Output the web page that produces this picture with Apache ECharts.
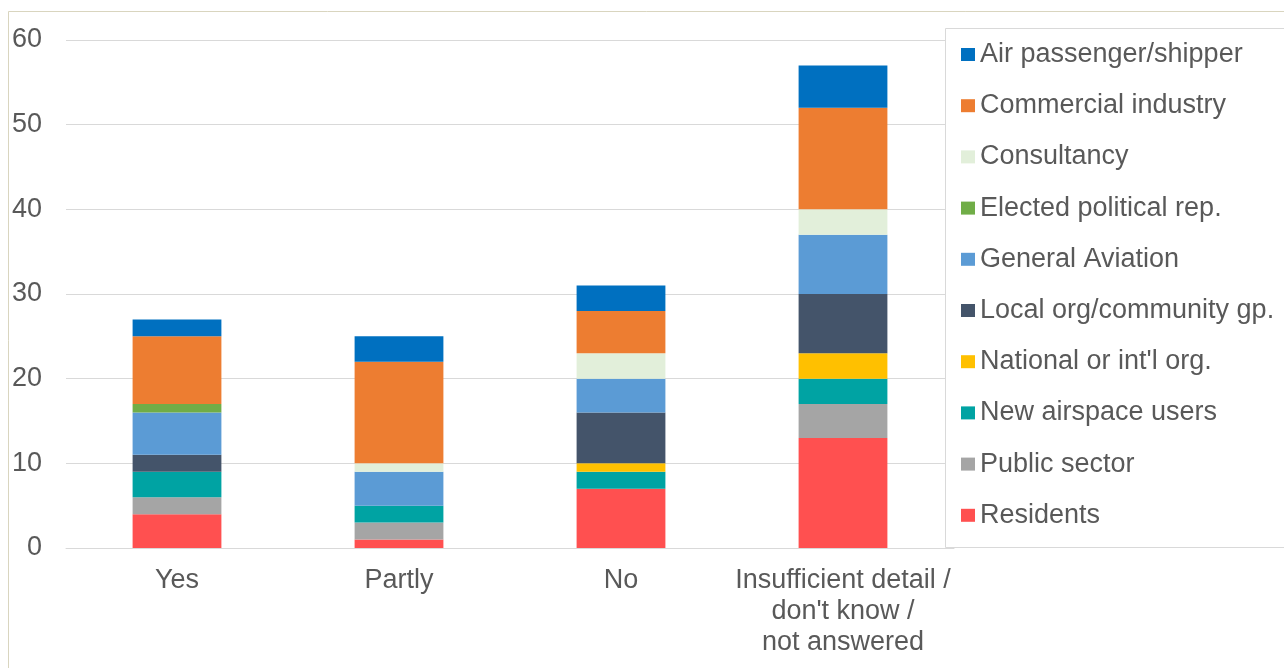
<!DOCTYPE html>
<html>
<head>
<meta charset="utf-8">
<script src="https://cdn.jsdelivr.net/npm/echarts@6/dist/echarts.min.js"></script>
<style>
  html, body { margin: 0; padding: 0; background: #ffffff; }
  #chart { width: 1284px; height: 668px; }
</style>
</head>
<body>
<div id="chart"></div>
<script>
// Response categories along the x axis
const categories = ['Yes', 'Partly', 'No', "Insufficient detail /\ndon't know /\nnot answered"];

// Respondent groups, bottom of the stack first
const residents        = [4, 1, 7, 13];
const publicSector     = [2, 2, 0, 4];
const newAirspaceUsers = [3, 2, 2, 3];
const nationalOrg      = [0, 0, 1, 3];
const localOrg         = [2, 0, 6, 7];
const generalAviation  = [5, 4, 4, 7];
const electedRep       = [1, 0, 0, 0];
const consultancy      = [0, 1, 3, 3];
const commercial       = [8, 12, 5, 12];
const airPassenger     = [2, 3, 3, 5];

const yTicks = { min: 0, max: 60, interval: 10 };

const groups = [
  { name: 'Residents', data: residents, color: '#ff5050' },
  { name: 'Public sector', data: publicSector, color: '#a5a5a5' },
  { name: 'New airspace users', data: newAirspaceUsers, color: '#00a3a3' },
  { name: "National or int'l org.", data: nationalOrg, color: '#ffc000' },
  { name: 'Local org/community gp.', data: localOrg, color: '#44546a' },
  { name: 'General Aviation', data: generalAviation, color: '#5b9bd5' },
  { name: 'Elected political rep.', data: electedRep, color: '#70ad47' },
  { name: 'Consultancy', data: consultancy, color: '#e2efda' },
  { name: 'Commercial industry', data: commercial, color: '#ed7d31' },
  { name: 'Air passenger/shipper', data: airPassenger, color: '#0070c0' }
];

const font = '"Liberation Sans", Arial, sans-serif';
const textColor = '#595959';
const fontSize = 27;

const chart = echarts.init(document.getElementById('chart'), null, { renderer: 'canvas' });

chart.setOption({
  animation: false,
  backgroundColor: '#ffffff',
  textStyle: { fontFamily: font },
  graphic: [
    {
      type: 'rect', z: 0, silent: true,
      shape: { x: 8.5, y: 11.5, width: 1400, height: 800 },
      style: { fill: 'none', stroke: '#d9d5bf', lineWidth: 1 }
    },
    {
      type: 'rect', z: 100, silent: true,
      shape: { x: 945.5, y: 28.5, width: 400, height: 519 },
      style: { fill: '#ffffff', stroke: '#d9d9d9', lineWidth: 1 }
    }
  ],
  grid: { left: 66, right: 330, top: 40, bottom: 120 },
  legend: {
    z: 200,
    orient: 'vertical',
    left: 961,
    top: 41,
    padding: 0,
    itemWidth: 14,
    itemHeight: 13,
    itemGap: 24.2,
    icon: 'rect',
    data: groups.map(g => g.name).reverse(),
    textStyle: { fontSize: fontSize, color: textColor, fontFamily: font, lineHeight: 27 }
  },
  xAxis: {
    type: 'category',
    data: categories,
    axisLine: { lineStyle: { color: '#d9d9d9', width: 1 } },
    axisTick: { show: false },
    axisLabel: {
      color: textColor, fontSize: fontSize, lineHeight: 31, margin: 17,
      fontFamily: font, interval: 0, align: 'center'
    }
  },
  yAxis: {
    type: 'value',
    min: yTicks.min, max: yTicks.max, interval: yTicks.interval,
    axisLine: { show: false },
    axisTick: { show: false },
    splitLine: { lineStyle: { color: '#d9d9d9', width: 1 } },
    axisLabel: { color: textColor, fontSize: fontSize, margin: 24, fontFamily: font }
  },
  series: groups.map(g => ({
    name: g.name,
    type: 'bar',
    stack: 'total',
    barWidth: '40%',
    data: g.data,
    itemStyle: { color: g.color }
  }))
});
</script>
</body>
</html>
